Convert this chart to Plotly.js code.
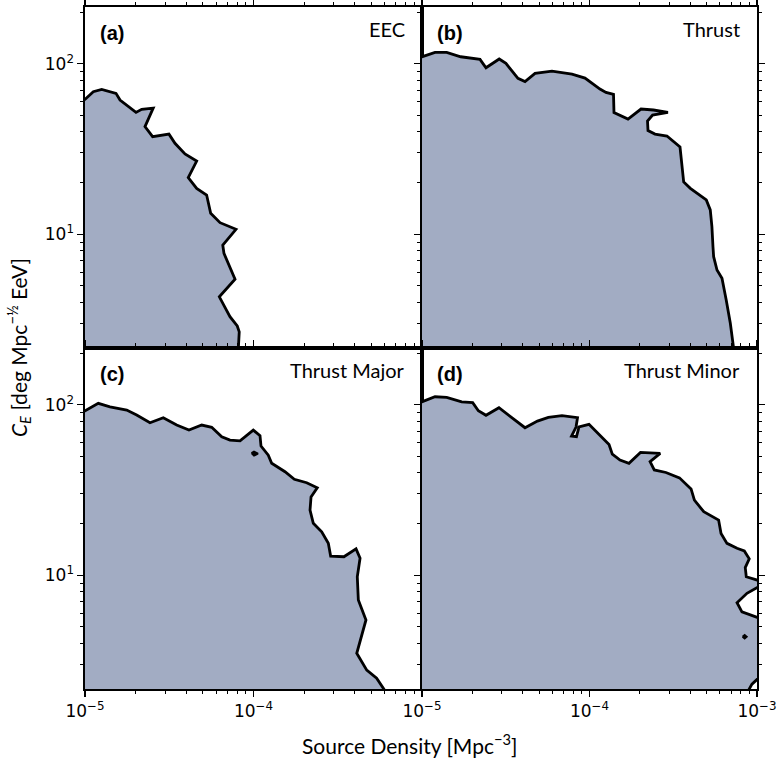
<!DOCTYPE html>
<html>
<head>
<meta charset="utf-8">
<script src="https://cdn.plot.ly/plotly-3.0.1.min.js"></script>
<style>
body { margin: 0; background: white; }
#plot { width: 777px; height: 758px; }
</style>
</head>
<body>
<div id="plot"></div>
<script>
// contour outlines (x: Mpc^-3, y: C_E)
// first/last points sit outside the view so the fill closes off-screen
var eecX = [8e-6, 1e-5, 1.12e-5, 1.256e-5, 1.528e-5, 1.614e-5, 2.008e-5, 2.17e-5, 2.54e-5, 2.27e-5,
    2.52e-5, 3.15e-5, 3.42e-5, 3.92e-5, 4.60e-5, 4.10e-5, 4.60e-5, 5.27e-5, 5.57e-5, 6.33e-5,
    7.87e-5, 6.57e-5, 6.68e-5, 7.25e-5, 7.77e-5, 6.27e-5, 7.25e-5, 8.01e-5, 8.23e-5, 8.10e-5, 8e-6];
var eecY = [61.9, 61.9, 68.6, 70.8, 67.1, 61.3, 51.9, 54.1, 55.0, 42.8,
    37.4, 38.7, 34.2, 29.6, 26.9, 21.5, 18.6, 17.0, 13.3, 11.7,
    10.7, 8.65, 7.73, 6.45, 5.45, 4.30, 3.29, 2.90, 2.68, 2.0, 2.0];

var thrustX = [8e-6, 1e-5, 1.196e-5, 1.404e-5, 1.702e-5, 2.22e-5, 2.41e-5, 2.89e-5, 3.17e-5, 3.74e-5,
    4.12e-5, 4.73e-5, 5.97e-5, 7.86e-5, 9.40e-5, 1.155e-4, 1.254e-4, 1.391e-4, 1.40e-4, 1.698e-4,
    2.03e-4, 2.41e-4, 2.94e-4, 2.38e-4, 2.22e-4, 2.235e-4, 2.46e-4, 2.90e-4, 3.47e-4, 3.65e-4,
    4.00e-4, 4.49e-4, 4.98e-4, 5.26e-4, 5.38e-4, 5.46e-4, 5.51e-4, 5.77e-4, 6.18e-4, 6.55e-4,
    6.93e-4, 7.32e-4, 8e-6];
var thrustY = [110.0, 110.0, 116.8, 116.8, 110.0, 106.2, 94.8, 106.7, 100.6, 82.2,
    78.7, 87.9, 90.7, 87.1, 82.5, 71.1, 68.0, 66.2, 51.8, 47.4,
    54.3, 53.6, 51.9, 50.1, 46.2, 40.6, 38.7, 37.7, 32.5, 20.3,
    18.6, 17.2, 15.9, 13.9, 11.1, 8.46, 7.39, 6.17, 5.52, 4.12,
    3.01, 2.0, 2.0];

var majorX = [8e-6, 1e-5, 1.199e-5, 1.407e-5, 1.768e-5, 2.026e-5, 2.43e-5, 2.915e-5, 3.50e-5, 4.14e-5,
    4.93e-5, 5.65e-5, 6.48e-5, 7.25e-5, 8.32e-5, 9.97e-5, 1.093e-4, 1.108e-4, 1.224e-4, 1.282e-4,
    1.538e-4, 1.747e-4, 2.068e-4, 2.39e-4, 2.195e-4, 2.165e-4, 2.264e-4, 2.54e-4, 2.78e-4, 2.87e-4,
    3.44e-4, 4.06e-4, 4.29e-4, 4.13e-4, 4.19e-4, 4.65e-4, 4.10e-4, 4.70e-4, 5.38e-4, 6.24e-4, 8e-6];
var majorY = [92.3, 92.3, 102.0, 97.4, 93.2, 87.1, 78.5, 84.0, 76.1, 71.1,
    76.1, 73.8, 65.0, 62.1, 61.5, 71.1, 65.9, 57.3, 50.7, 45.4,
    40.5, 36.6, 34.9, 32.6, 28.8, 24.1, 20.2, 18.0, 15.4, 12.97,
    12.85, 14.3, 12.6, 9.81, 7.16, 5.47, 3.49, 2.78, 2.49, 2.0, 2.0];
var majorIslandX = [9.73e-5, 1.007e-4, 1.063e-4, 1.007e-4, 9.73e-5];
var majorIslandY = [52.1, 53.2, 51.8, 50.4, 52.1];

var minorX = [8e-6, 1e-5, 1.196e-5, 1.404e-5, 1.726e-5, 2.007e-5, 2.17e-5, 2.41e-5, 2.88e-5, 3.43e-5,
    4.12e-5, 4.89e-5, 5.68e-5, 6.85e-5, 8.48e-5, 8.31e-5, 7.81e-5, 8.36e-5, 8.66e-5, 9.93e-5,
    1.147e-4, 1.308e-4, 1.368e-4, 1.521e-4, 1.72e-4, 2.016e-4, 2.643e-4, 2.30e-4, 2.436e-4, 2.86e-4,
    3.445e-4, 4.04e-4, 4.23e-4, 4.81e-4, 5.90e-4, 6.10e-4, 6.62e-4, 7.60e-4, 8.40e-4, 8.99e-4,
    8.51e-4, 8.63e-4, 1e-3, 1.3e-3, 1.3e-3, 1e-3, 8.71e-4, 7.60e-4, 8.13e-4, 1e-3,
    1.3e-3, 1.3e-3, 1e-3, 9.33e-4, 8.62e-4, 8e-6];
var minorY = [104.2, 104.2, 111.5, 110.6, 104.2, 102.9, 92.3, 86.8, 96.1, 84.4,
    73.4, 80.3, 84.4, 86.3, 84.0, 74.1, 65.6, 65.0, 74.3, 76.8,
    66.9, 58.5, 51.4, 47.4, 45.4, 52.6, 51.9, 46.4, 41.5, 40.1,
    37.3, 32.1, 27.6, 23.6, 21.1, 17.6, 15.4, 14.4, 13.9, 12.5,
    11.1, 9.81, 9.38, 9.38, 8.46, 8.46, 7.84, 6.91, 6.11, 5.67,
    5.67, 2.45, 2.45, 2.30, 2.0, 2.0];
var minorDotX = [8.2e-4, 8.44e-4, 8.67e-4, 8.44e-4, 8.2e-4];
var minorDotY = [4.36, 4.46, 4.36, 4.26, 4.36];

var panelLetters = ['(a)', '(b)', '(c)', '(d)'];
var panelNames = ['EEC', 'Thrust', 'Thrust Major', 'Thrust Minor'];

var xTickVals = [1e-5, 1e-4, 1e-3];
var xTickText = ['10<sup>−5</sup>', '10<sup>−4</sup>', '10<sup>−3</sup>'];
var xMinorVals = [2e-5, 3e-5, 4e-5, 5e-5, 6e-5, 7e-5, 8e-5, 9e-5,
    2e-4, 3e-4, 4e-4, 5e-4, 6e-4, 7e-4, 8e-4, 9e-4];
var yTickVals = [10, 100];
var yTickText = ['10<sup>1</sup>', '10<sup>2</sup>'];
var yMinorVals = [3, 4, 5, 6, 7, 8, 9, 20, 30, 40, 50, 60, 70, 80, 90, 200];

var fillColor = '#a2acc3';

function region(x, y, xa, ya) {
    return {
        x: x, y: y, xaxis: xa, yaxis: ya,
        type: 'scatter', mode: 'lines', fill: 'toself',
        fillcolor: fillColor,
        line: { color: 'black', width: 2.8 },
        hoverinfo: 'skip', showlegend: false
    };
}

function blob(x, y, xa, ya) {
    return {
        x: x, y: y, xaxis: xa, yaxis: ya,
        type: 'scatter', mode: 'lines', fill: 'toself',
        fillcolor: 'black',
        line: { color: 'black', width: 2 },
        hoverinfo: 'skip', showlegend: false
    };
}

var data = [
    region(eecX, eecY, 'x', 'y'),
    region(thrustX, thrustY, 'x2', 'y2'),
    region(majorX, majorY, 'x3', 'y3'),
    blob(majorIslandX, majorIslandY, 'x3', 'y3'),
    region(minorX, minorY, 'x4', 'y4'),
    blob(minorDotX, minorDotY, 'x4', 'y4')
];

// plot area: 85..757 px across, 7..689 px down
var splitX = 337 / 672;

function logAxis(range, domain, minorVals) {
    return {
        type: 'log', range: range, domain: domain,
        showline: true, linecolor: 'black', linewidth: 1.6,
        ticks: 'outside', ticklen: 6, tickwidth: 1.3, tickcolor: 'black',
        showgrid: false, zeroline: false,
        tickfont: { family: 'DejaVu Sans', size: 17, color: 'black' },
        minor: {
            tickmode: 'array', tickvals: minorVals,
            ticks: 'outside', ticklen: 3.5, tickwidth: 1, tickcolor: 'black', showgrid: false
        }
    };
}

function xAxis(domain, anchor, top, labelCount) {
    var ax = logAxis([-5, -3], domain, xMinorVals);
    ax.anchor = anchor;
    ax.tickmode = 'array';
    ax.tickvals = xTickVals.slice(0, labelCount);
    ax.ticktext = xTickText.slice(0, labelCount);
    if (top) {
        ax.side = 'top';
        ax.mirror = true;
        ax.showticklabels = false;
    } else {
        ax.side = 'bottom';
        ax.mirror = 'ticks';
    }
    return ax;
}

function yAxis(domain, anchor, right) {
    var ax = logAxis([Math.log10(2.154), Math.log10(215.4)], domain, yMinorVals);
    ax.anchor = anchor;
    ax.tickmode = 'array';
    ax.tickvals = yTickVals;
    ax.ticktext = yTickText;
    if (right) {
        ax.side = 'right';
        ax.mirror = 'ticks';
        ax.showticklabels = false;
    } else {
        ax.side = 'left';
        ax.mirror = true;
    }
    return ax;
}

var annotations = [];
var xRefs = ['x', 'x2', 'x3', 'x4'];
var yRefs = ['y', 'y2', 'y3', 'y4'];
for (let index = 0; index < 4; index++) {
    annotations.push({
        text: panelLetters[index], showarrow: false,
        xref: xRefs[index] + ' domain', yref: yRefs[index] + ' domain',
        x: 13 / 337, y: 1 - 25.5 / 341, xanchor: 'left', yanchor: 'middle',
        font: { family: 'Liberation Sans', size: 20, color: 'black', weight: 'bold' }
    });
    annotations.push({
        text: panelNames[index], showarrow: false,
        xref: xRefs[index] + ' domain', yref: yRefs[index] + ' domain',
        x: 1 - 15 / 337, y: 1 - 22 / 341, xanchor: 'right', yanchor: 'middle',
        font: { family: 'Lato', size: 20, color: 'black' }
    });
}
annotations.push({
    text: 'Source Density [Mpc<sup>−3</sup>]', showarrow: false,
    xref: 'paper', yref: 'paper', x: (410 - 85) / 672, y: (689 - 744) / 682,
    xanchor: 'center', yanchor: 'middle',
    font: { family: 'Lato', size: 21, color: 'black' }
});
annotations.push({
    text: '<i>C</i><sub><i>E</i></sub> [deg Mpc<sup>−½</sup> EeV]', showarrow: false,
    xref: 'paper', yref: 'paper', x: (18 - 85) / 672, y: 0.5,
    xanchor: 'center', yanchor: 'middle', textangle: -90,
    font: { family: 'Lato', size: 21, color: 'black' }
});

var layout = {
    width: 777, height: 758,
    margin: { l: 85, r: 20, t: 7, b: 69 },
    paper_bgcolor: 'white', plot_bgcolor: 'white',
    showlegend: false,
    xaxis: xAxis([0, splitX], 'y', true, 3),
    yaxis: yAxis([0.5, 1], 'x', false),
    xaxis2: xAxis([splitX, 1], 'y2', true, 3),
    yaxis2: yAxis([0.5, 1], 'x2', true),
    xaxis3: xAxis([0, splitX], 'y3', false, 2),
    yaxis3: yAxis([0, 0.5], 'x3', false),
    xaxis4: xAxis([splitX, 1], 'y4', false, 3),
    yaxis4: yAxis([0, 0.5], 'x4', true),
    annotations: annotations
};

Plotly.newPlot('plot', data, layout, { staticPlot: true });
</script>
</body>
</html>
